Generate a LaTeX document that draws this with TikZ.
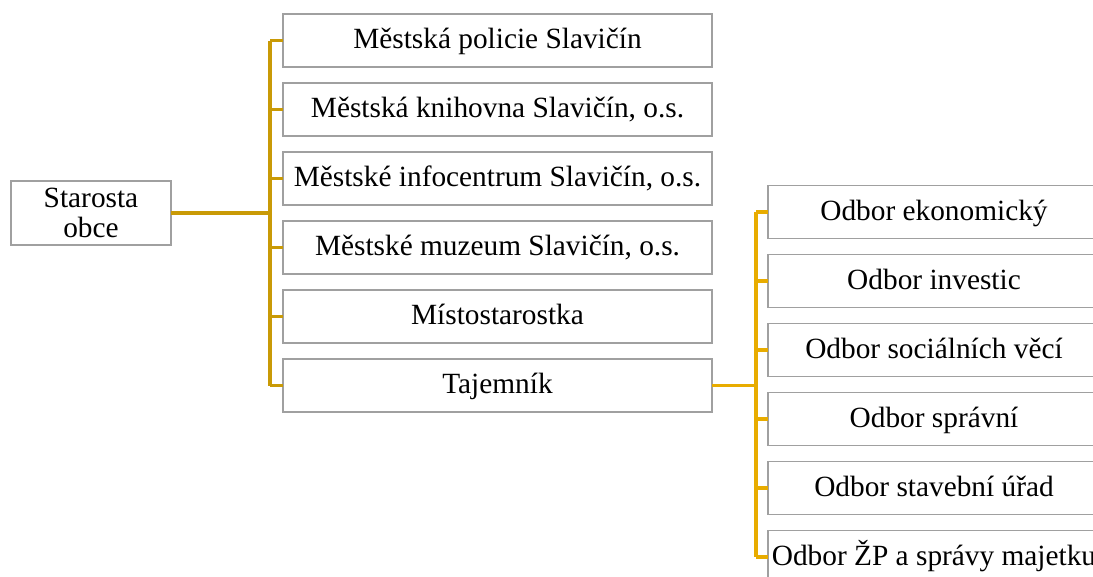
\documentclass[tikz,border=0pt]{standalone}
\usepackage{fontspec}
\setmainfont{Liberation Serif}
\usetikzlibrary{positioning}
\definecolor{goldleft}{HTML}{C99A06}
\definecolor{goldright}{HTML}{E8AC00}
\definecolor{boxgray}{HTML}{A0A0A0}
\tikzset{
	unit/.style={draw=boxgray, line width=1.2pt, fill=white, inner sep=0pt, outer sep=0pt,
		minimum height=39.75pt, text height=16pt, text depth=4pt,
		font=\fontsize{22}{22.5}\selectfont},
	leftunit/.style={unit, minimum width=321.75pt},
	rightunit/.style={unit, minimum width=249pt},
	linkleft/.style={draw=goldleft, line width=2.4pt},
	linkright/.style={draw=goldright, line width=2.4pt}
}
\begin{document}
\begin{tikzpicture}[x=0.75pt, y=-0.75pt, node distance=12pt]
	% page frame - clip what runs over the edge
	\clip (0,0) rectangle (1093,576);
	% head of the tree
	\node[unit, minimum width=120pt, minimum height=48pt, text height=, text depth=, align=center] (starosta) at (91,213) {Starosta\\obce};
	% first level
	\node[leftunit] (policie) at (497.5,40.5) {Městská policie Slavičín};
	\node[leftunit, below=of policie] (knihovna) {Městská knihovna Slavičín, o.s.};
	\node[leftunit, below=of knihovna] (infocentrum) {Městské infocentrum Slavičín, o.s.};
	\node[leftunit, below=of infocentrum] (muzeum) {Městské muzeum Slavičín, o.s.};
	\node[leftunit, below=of muzeum] (mistostarostka) {Místostarostka};
	\node[leftunit, below=of mistostarostka] (tajemnik) {Tajemník};
	% second level, under Tajemník
	\node[rightunit, anchor=west] (ekonomicky) at (768,212) {Odbor ekonomický};
	\node[rightunit, below=of ekonomicky] (investic) {Odbor investic};
	\node[rightunit, below=of investic] (socialni) {Odbor sociálních věcí};
	\node[rightunit, below=of socialni] (spravni) {Odbor správní};
	\node[rightunit, below=of spravni] (stavebni) {Odbor stavební úřad};
	\node[rightunit, below=of stavebni] (zp) {Odbor ŽP a správy majetku};
	% left bus
	\coordinate (busleft) at (270,213);
	\draw[linkleft] (starosta.east) -- (busleft);
	\draw[linkleft] (busleft |- policie.west) -- (busleft |- tajemnik.west);
	\foreach \n in {policie,knihovna,infocentrum,muzeum,mistostarostka,tajemnik}
		\draw[linkleft] (busleft |- \n.west) -- (\n.west);
	% right bus
	\coordinate (busright) at (756,384.5);
	\draw[linkright] (tajemnik.east) -- (busright |- tajemnik.east);
	\draw[linkright] (busright |- ekonomicky.west) -- (busright |- zp.west);
	\foreach \n in {ekonomicky,investic,socialni,spravni,stavebni,zp}
		\draw[linkright] (busright |- \n.west) -- (\n.west);
\end{tikzpicture}
\end{document}
